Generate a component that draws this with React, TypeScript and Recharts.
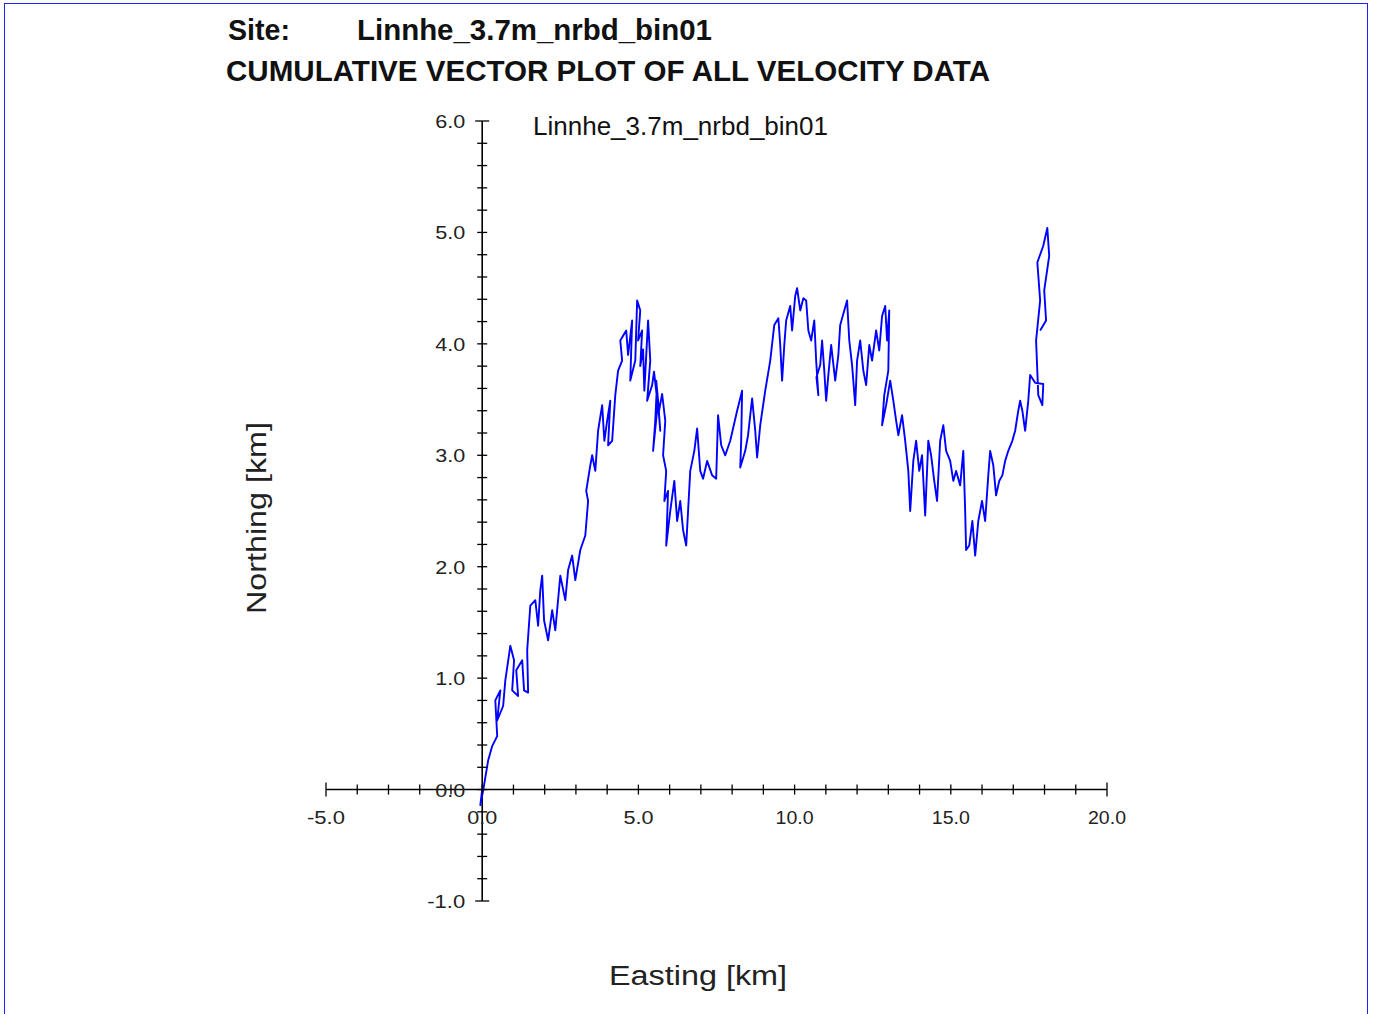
import React from "react";
import { LineChart, Line, XAxis, YAxis, ReferenceLine, ReferenceDot } from "recharts";

// Cumulative (progressive) vector path, km
const EAST = [
  0, -0.06, 0.03, 0.19, 0.32, 0.48, 0.42, 0.58, 0.48, 0.67, 0.74, 0.9, 1.02, 0.96, 1.15, 1.09, 1.28, 1.34, 1.47, 1.44,
  1.54, 1.7, 1.79, 1.86, 1.92, 1.98, 2.11, 2.24, 2.34, 2.5, 2.66, 2.75, 2.88, 2.98, 3.14, 3.3,
  3.39, 3.33, 3.46, 3.52, 3.62, 3.71, 3.84, 3.91, 4.0, 4.1, 4.03, 4.16, 4.26, 4.35, 4.48, 4.42, 4.61, 4.67, 4.8, 4.74,
  4.9, 4.96, 5.06, 4.99, 5.12, 5.06, 5.15, 5.19, 5.31, 5.38, 5.28, 5.44, 5.5, 5.58, 5.54, 5.47, 5.63, 5.7, 5.57, 5.66,
  5.76, 5.86, 5.79, 5.89, 5.83, 5.95, 5.89, 6.02, 6.15, 6.24, 6.34, 6.43, 6.53, 6.59, 6.66, 6.79, 6.88, 6.98, 7.07, 7.2,
  7.36, 7.49, 7.55, 7.65, 7.78, 7.94, 8.16, 8.32, 8.29, 8.26, 8.42, 8.51, 8.64, 8.74, 8.8, 8.9, 9.06, 9.22, 9.35, 9.48,
  9.54, 9.6, 9.67, 9.73, 9.86, 9.92, 10.02, 10.08, 10.18, 10.28, 10.37, 10.44, 10.53, 10.63, 10.69, 10.76, 10.7, 10.82,
  10.88, 10.95, 11.01, 11.08, 11.17, 11.3, 11.4, 11.46, 11.59, 11.68, 11.75, 11.84, 11.94, 12.0, 12.1, 12.2, 12.29,
  12.39, 12.48, 12.61, 12.71, 12.8, 12.9, 12.96, 13.03, 13.0, 12.87, 12.8, 12.93, 13.06, 13.16, 13.25, 13.32, 13.44,
  13.54, 13.64, 13.7, 13.8, 13.89, 13.99, 14.08, 14.18, 14.28, 14.37, 14.47, 14.56, 14.66, 14.76, 14.85, 14.98, 15.08,
  15.17, 15.3, 15.4, 15.46, 15.49, 15.59, 15.69, 15.78, 15.88, 16.0, 16.1, 16.2, 16.26, 16.36, 16.45, 16.55, 16.65,
  16.74, 16.84, 16.97, 17.06, 17.16, 17.22, 17.29, 17.38, 17.48, 17.54, 17.7, 17.96, 17.93, 17.8, 17.73, 17.86, 17.77,
  17.96, 18.09, 18.15, 17.99, 18.05, 17.86,
];
const NORTH = [
  0, -0.14, -0.01, 0.26, 0.39, 0.48, 0.8, 0.89, 0.62, 0.75, 0.98, 1.29, 1.16, 0.89, 0.84, 1.07, 1.16, 0.89, 0.87, 1.25,
  1.65, 1.7, 1.47, 1.79, 1.92, 1.52, 1.34, 1.61, 1.43, 1.92, 1.7, 1.97, 2.1, 1.88, 2.15, 2.28,
  2.59, 2.68, 2.91, 3.0, 2.86, 3.22, 3.45, 3.13, 3.31, 3.49, 3.09, 3.13, 3.54, 3.76, 3.85, 4.03, 4.12, 3.9, 4.21, 3.67,
  3.85, 4.39, 4.3, 4.03, 4.12, 3.8, 3.95, 3.58, 4.21, 3.85, 3.49, 3.63, 3.75, 3.55, 3.31, 3.04, 3.49, 3.22, 3.67, 3.4,
  3.55, 3.31, 3.0, 2.86, 2.59, 2.68, 2.19, 2.5, 2.77, 2.41, 2.59, 2.33, 2.19, 2.5, 2.86, 3.04, 3.24, 2.86, 2.79, 2.95,
  2.82, 2.79, 3.36, 3.09, 3.0, 3.13, 3.4, 3.58, 3.13, 2.89, 3.04, 3.18, 3.51, 3.22, 2.98, 3.27, 3.58, 3.85, 4.17, 4.23,
  3.99, 3.67, 3.99, 4.21, 4.34, 4.12, 4.43, 4.5, 4.3, 4.41, 4.39, 4.12, 4.03, 4.21, 3.85, 3.54, 3.7, 3.81,
  4.03, 3.76, 3.49, 3.72, 3.99, 3.67, 3.9, 4.17, 4.3, 4.39, 4.03, 3.81, 3.45, 3.85, 4.03, 3.76, 3.63,
  3.99, 3.85, 4.12, 3.94, 4.25, 4.34, 4.03, 4.3, 3.76, 3.54, 3.27, 3.45, 3.67, 3.49, 3.31, 3.18, 3.36,
  3.13, 2.86, 2.5, 2.95, 3.13, 2.86, 3.0, 2.46, 3.13, 3.0, 2.77, 2.59, 3.13, 3.27, 3.04, 2.95, 2.77,
  2.86, 2.73, 3.04, 2.5, 2.15, 2.19, 2.41, 2.1, 2.41, 2.59, 2.41, 2.82, 3.04, 2.91, 2.64, 2.77, 2.82,
  2.95, 3.04, 3.13, 3.22, 3.4, 3.49, 3.4, 3.22, 3.49, 3.72, 3.65, 3.64, 3.45, 3.54, 4.03, 4.39, 4.73,
  4.88, 5.04, 4.79, 4.48, 4.21, 4.12,
];

const X_TICKS = Array.from({ length: 26 }, (_, i) => -5 + i);
const Y_TICKS = Array.from({ length: 36 }, (_, i) => Math.round((-1 + i * 0.2) * 10) / 10);
const X_LABELS = [-5, 0, 5, 10, 15, 20];
const Y_LABELS = [-1, 0, 1, 2, 3, 4, 5, 6];

const SITE = "Linnhe_3.7m_nrbd_bin01";
const TITLE = "CUMULATIVE VECTOR PLOT OF ALL VELOCITY DATA";

const data = EAST.map((e, i) => ({ e, n: NORTH[i] }));

const W = 1374;
const H = 1014;
const LINE_BLUE = "#0000ff";
const AXIS = "#000";
const LABEL_FONT = "'Liberation Sans', Arial, sans-serif";
const NARROW_FONT = "'Liberation Sans Narrow', 'Liberation Sans', Arial, sans-serif";

const fmt = (v: number) => v.toFixed(1);

function XTick(props: any) {
  const { cx, cy, payload } = props;
  const end = payload.v === -5 || payload.v === 20;
  const h = end ? 7 : 5;
  return (
    <g>
      <line x1={cx} y1={cy - h} x2={cx} y2={cy + h} stroke={AXIS} strokeWidth={1.3} />
      {payload.label ? (
        <text x={cx} y={cy + 34} textAnchor="middle" fontFamily={LABEL_FONT} fontSize={19} fill="#222"
          textLength={payload.v < 0 || payload.v >= 10 ? 38 : 30} lengthAdjust="spacingAndGlyphs">
          {fmt(payload.v)}
        </text>
      ) : null}
    </g>
  );
}

function YTick(props: any) {
  const { cx, cy, payload } = props;
  const end = payload.v === -1 || payload.v === 6;
  const w = end ? 7 : 5;
  return (
    <g>
      <line x1={cx - w} y1={cy} x2={cx + w} y2={cy} stroke={AXIS} strokeWidth={1.3} />
      {payload.label ? (
        <text x={cx - 17} y={cy + 7} textAnchor="end" fontFamily={LABEL_FONT} fontSize={19} fill="#222"
          textLength={payload.v < 0 ? 38 : 30} lengthAdjust="spacingAndGlyphs">
          {fmt(payload.v)}
        </text>
      ) : null}
    </g>
  );
}

export default function App() {
  return (
    <div style={{ position: "absolute", left: 0, top: 0, width: W, height: H, overflow: "hidden", background: "#fff" }}>
      <div
        style={{
          position: "absolute",
          left: 4,
          top: 3,
          width: 1364,
          height: 1030,
          border: "1px solid #1f1fff",
          boxSizing: "border-box",
        }}
      />
      <div style={{ position: "absolute", left: 0, top: 0 }}>
        <LineChart width={W} height={H} data={data} margin={{ top: 121, right: 267, bottom: 113, left: 326 }}>
          <XAxis dataKey="e" type="number" domain={[-5, 20]} hide allowDataOverflow />
          <YAxis dataKey="n" type="number" domain={[-1, 6]} hide allowDataOverflow />
          <ReferenceLine y={0} stroke={AXIS} strokeWidth={1.6} />
          <ReferenceLine x={0} stroke={AXIS} strokeWidth={1.6} />
          {X_TICKS.map((t) => (
            <ReferenceDot
              key={"xt" + t}
              x={t}
              y={0}
              r={0}
              shape={(p: any) => <XTick {...p} payload={{ v: t, label: X_LABELS.includes(t) }} />}
            />
          ))}
          {Y_TICKS.map((t) => (
            <ReferenceDot
              key={"yt" + t}
              x={0}
              y={t}
              r={0}
              shape={(p: any) => <YTick {...p} payload={{ v: t, label: Y_LABELS.includes(t) }} />}
            />
          ))}
          <Line
            dataKey="n"
            type="linear"
            stroke={LINE_BLUE}
            strokeWidth={1.9}
            strokeLinejoin="round"
            dot={false}
            activeDot={false}
            isAnimationActive={false}
          />
        </LineChart>
      </div>
      <svg width={W} height={H} style={{ position: "absolute", left: 0, top: 0, pointerEvents: "none" }}>
        <text x={228} y={40} fontFamily={NARROW_FONT} fontWeight="bold" fontSize={29} fill="#111"
          textLength={62} lengthAdjust="spacingAndGlyphs">Site:</text>
        <text x={357} y={40} fontFamily={NARROW_FONT} fontWeight="bold" fontSize={29} fill="#111"
          textLength={355} lengthAdjust="spacingAndGlyphs">{SITE}</text>
        <text x={226} y={81} fontFamily={NARROW_FONT} fontWeight="bold" fontSize={29} fill="#111"
          textLength={764} lengthAdjust="spacingAndGlyphs">{TITLE}</text>
        <text x={533} y={135} fontFamily={NARROW_FONT} fontSize={25} fill="#111"
          textLength={295} lengthAdjust="spacingAndGlyphs">{SITE}</text>
        <text x={698} y={985} textAnchor="middle" fontFamily={LABEL_FONT} fontSize={27} fill="#222"
          textLength={178} lengthAdjust="spacingAndGlyphs">Easting [km]</text>
        <text x={0} y={0} transform="translate(266,518) rotate(-90)" textAnchor="middle" fontFamily={LABEL_FONT}
          fontSize={27} fill="#222" textLength={192} lengthAdjust="spacingAndGlyphs">Northing [km]</text>
      </svg>
    </div>
  );
}
